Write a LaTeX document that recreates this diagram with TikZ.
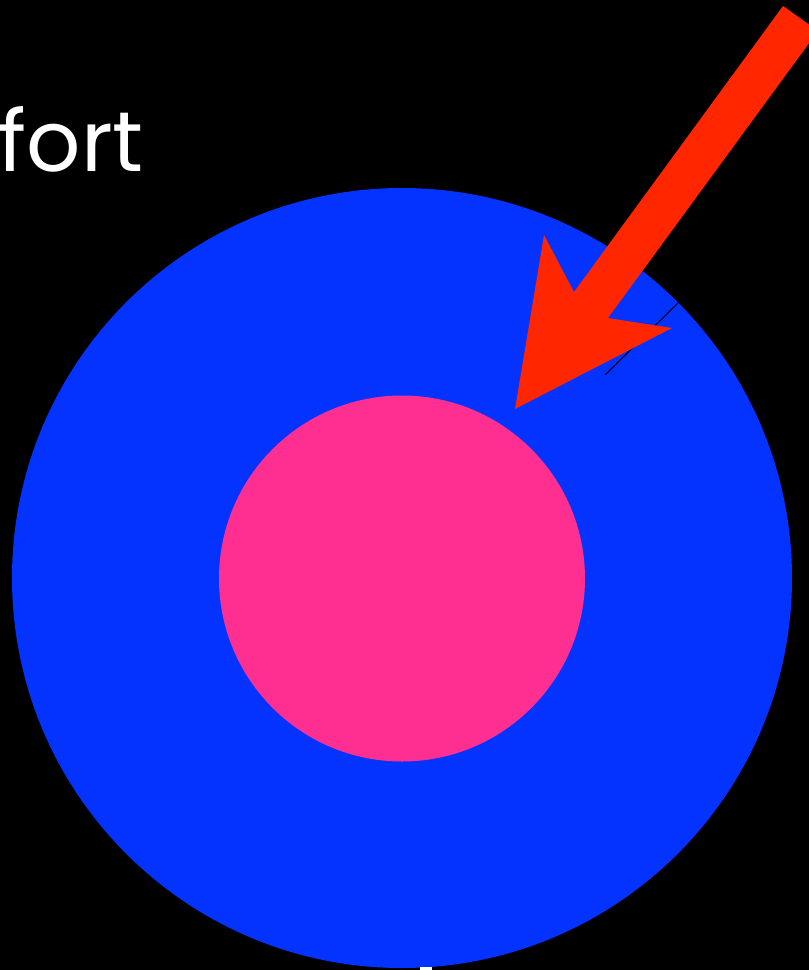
\documentclass[tikz,border=0pt]{standalone}
\usepackage{fontspec}
\newfontfamily\labelfont{Poppins}
\definecolor{bgblack}{RGB}{0,0,0}
\definecolor{ringblue}{RGB}{4,51,255}
\definecolor{corepink}{RGB}{255,47,146}
\definecolor{arrowred}{RGB}{255,38,0}
\begin{document}
\begin{tikzpicture}[x=1pt,y=-1pt,
  labeltext/.style={text=white,font=\labelfont\fontsize{85}{90}\selectfont,inner sep=0pt}]
\useasboundingbox (0,0) rectangle (809,970);
\fill[bgblack] (0,0) rectangle (809,970);
\node[labeltext,anchor=base east] (title) at (144,171) {fort};
\fill[ringblue] (402,578) circle[radius=390];
\fill[corepink] (402,578.5) circle[radius=183];
\draw[black,line width=1pt] (678,303) -- (605,375);
\fill[arrowred] (515,409) -- (544,235) -- (574,292) -- (783,6) -- (818,31) -- (608,318) -- (672,328) -- cycle;
\fill[white] (420,966.5) rectangle (432,970);
\end{tikzpicture}
\end{document}
